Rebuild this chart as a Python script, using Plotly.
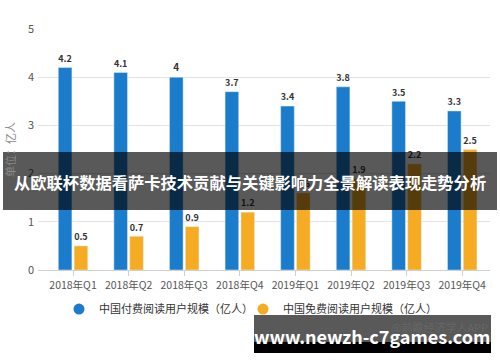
import plotly.graph_objects as go

categories = ["2018年Q1", "2018年Q2", "2018年Q3", "2018年Q4",
              "2019年Q1", "2019年Q2", "2019年Q3", "2019年Q4"]
paid_users = [4.2, 4.1, 4.0, 3.7, 3.4, 3.8, 3.5, 3.3]
free_users = [0.5, 0.7, 0.9, 1.2, 1.6, 1.9, 2.2, 2.5]
paid_name = "中国付费阅读用户规模（亿人）"
free_name = "中国免费阅读用户规模（亿人）"
y_title = "单位：亿人"
banner_title = "从欧联杯数据看萨卡技术贡献与关键影响力全景解读表现走势分析"
banner_url = "www.newzh-c7games.com"
source_text = "@前瞻经济学人APP"

BLUE = "#1a7ccb"
ORANGE = "#f5ac22"
FONT = "Noto Sans CJK SC, Noto Sans, sans-serif"

L, R, T, B = 38, 10, 29, 92
PW, PH = 500 - L - R, 362 - T - B


def px_x(x):
    return (x - L) / PW


def px_y(y):
    return (362 - B - y) / PH


fig = go.Figure()
fig.add_trace(go.Bar(
    x=categories, y=paid_users, marker_color=BLUE, showlegend=False,
    text=[f"{v:g}" for v in paid_users], textposition="outside",
    textfont=dict(size=10, color="#333333", family=FONT, weight="bold"),
    cliponaxis=False))
fig.add_trace(go.Bar(
    x=categories, y=free_users, marker_color=ORANGE, showlegend=False,
    text=[f"{v:g}" for v in free_users], textposition="outside",
    textfont=dict(size=10, color="#333333", family=FONT, weight="bold"),
    cliponaxis=False))
# legend entries with round symbols
fig.add_trace(go.Scatter(x=[None], y=[None], mode="markers", name=paid_name,
                         legend="legend",
                         marker=dict(color=BLUE, size=11, symbol="circle")))
fig.add_trace(go.Scatter(x=[None], y=[None], mode="markers", name=free_name,
                         legend="legend2",
                         marker=dict(color=ORANGE, size=11, symbol="circle")))

legend_style = dict(orientation="h", xanchor="left", y=-0.102, yanchor="top",
                    font=dict(size=11, color="#333333"), itemclick=False,
                    bgcolor="rgba(0,0,0,0)")

fig.update_layout(
    width=500, height=362,
    margin=dict(l=L, r=R, t=T, b=B),
    paper_bgcolor="white", plot_bgcolor="white",
    font=dict(family=FONT, size=11, color="#555555"),
    barmode="group", bargap=0.43, bargroupgap=0.14,
    legend=dict(x=px_x(59), **legend_style),
    legend2=dict(x=px_x(243), **legend_style),
    xaxis=dict(showgrid=False, showline=True, linecolor="#d0d0d0",
               range=[-0.63, 7.5],
               ticks="outside", ticklen=5, tickcolor="#d0d0d0", automargin=False,
               tickfont=dict(size=10.5, color="#555555")),
    yaxis=dict(range=[0, 5], dtick=1, showgrid=True, gridcolor="#e3e3e3",
               zeroline=False, showline=False, ticks="", automargin=False,
               ticklabelstandoff=3,
               tickfont=dict(size=11, color="#555555"),
               title=dict(text=y_title, font=dict(size=11, color="#888888"), standoff=10)),
    showlegend=True,
)

# source watermark
fig.add_annotation(text=source_text, xref="paper", yref="paper",
                   x=1.0, y=px_y(327), xanchor="right", yanchor="middle",
                   showarrow=False, font=dict(size=11, color="#666666"))

# dark title banner overlay
fig.add_shape(type="rect", xref="paper", yref="paper",
              x0=px_x(3), x1=px_x(497), y0=px_y(210), y1=px_y(152),
              fillcolor="rgba(0,0,0,0.65)", line_width=0, layer="above")
fig.add_annotation(text=banner_title, xref="paper", yref="paper",
                   x=px_x(250), y=px_y(182), xanchor="center", yanchor="middle",
                   showarrow=False,
                   font=dict(size=16.3, color="white", family=FONT, weight="bold"))

# bottom url banner
fig.add_shape(type="rect", xref="paper", yref="paper",
              x0=px_x(254), x1=px_x(491), y0=px_y(342), y1=px_y(315),
              fillcolor="rgba(0,0,0,0.65)", line_width=0, layer="above")
fig.add_shape(type="rect", xref="paper", yref="paper",
              x0=px_x(254), x1=px_x(491), y0=px_y(353), y1=px_y(342),
              fillcolor="black", line_width=0, layer="above")
fig.add_annotation(text=banner_url, xref="paper", yref="paper",
                   x=px_x(372), y=px_y(336), xanchor="center", yanchor="middle",
                   showarrow=False,
                   font=dict(size=18, color="white", family=FONT, weight="bold"))

fig.write_html("out.html", config={"displayModeBar": False},
               post_script="document.body.style.margin='0';")
